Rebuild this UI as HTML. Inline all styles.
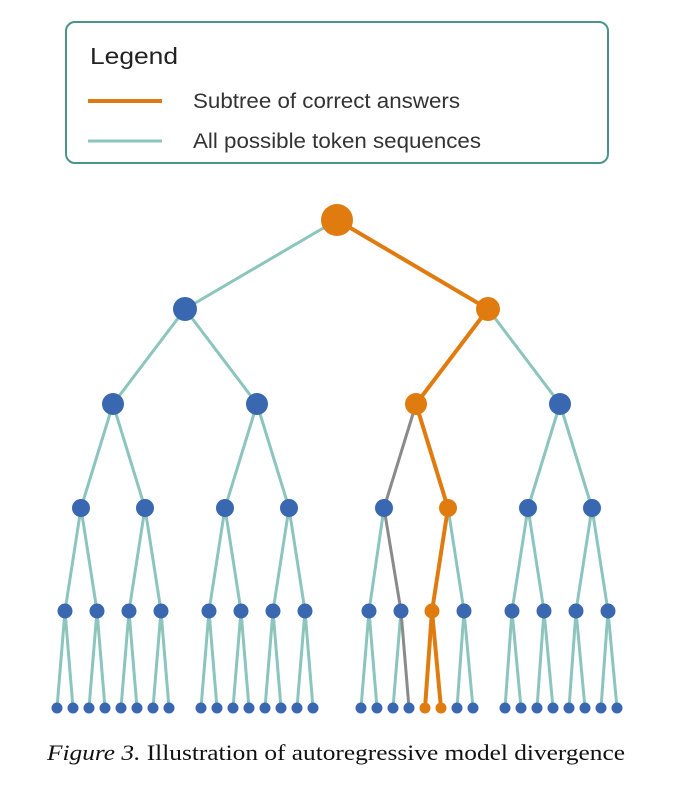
<!DOCTYPE html>
<html><head><meta charset="utf-8"><style>
html,body{margin:0;padding:0;background:#fff;}
svg{display:block;}
</style></head><body>
<svg width="690" height="796" viewBox="0 0 690 796" xmlns="http://www.w3.org/2000/svg">
<rect x="66" y="22" width="542" height="141" rx="9" fill="#fff" stroke="#4a9488" stroke-width="2"/>
<text x="90" y="64" font-family="Liberation Sans, sans-serif" font-size="23" fill="#222" textLength="88" lengthAdjust="spacingAndGlyphs">Legend</text>
<line x1="88" y1="101" x2="162" y2="101" stroke="#dd7a12" stroke-width="4"/>
<line x1="88" y1="141" x2="162" y2="141" stroke="#8cc5bd" stroke-width="3"/>
<text x="193" y="108" font-family="Liberation Sans, sans-serif" font-size="21" fill="#333" textLength="267" lengthAdjust="spacingAndGlyphs">Subtree of correct answers</text>
<text x="193" y="148" font-family="Liberation Sans, sans-serif" font-size="21" fill="#333" textLength="288" lengthAdjust="spacingAndGlyphs">All possible token sequences</text>

<g stroke-width="3" stroke-linecap="round">
<g stroke="#8cc5bd">
<line x1="337" y1="220" x2="185" y2="309"/>
<line x1="185" y1="309" x2="113" y2="404"/><line x1="185" y1="309" x2="257" y2="404"/>
<line x1="488" y1="309" x2="560" y2="404"/>
<line x1="113" y1="404" x2="81" y2="508"/><line x1="113" y1="404" x2="145" y2="508"/>
<line x1="257" y1="404" x2="225" y2="508"/><line x1="257" y1="404" x2="289" y2="508"/>
<line x1="560" y1="404" x2="528" y2="508"/><line x1="560" y1="404" x2="592" y2="508"/>
<line x1="81" y1="508" x2="65" y2="611"/><line x1="81" y1="508" x2="97" y2="611"/>
<line x1="145" y1="508" x2="129" y2="611"/><line x1="145" y1="508" x2="161" y2="611"/>
<line x1="225" y1="508" x2="209" y2="611"/><line x1="225" y1="508" x2="241" y2="611"/>
<line x1="289" y1="508" x2="273" y2="611"/><line x1="289" y1="508" x2="305" y2="611"/>
<line x1="384" y1="508" x2="369" y2="611"/>
<line x1="448" y1="508" x2="464" y2="611"/>
<line x1="528" y1="508" x2="512" y2="611"/><line x1="528" y1="508" x2="544" y2="611"/>
<line x1="592" y1="508" x2="576" y2="611"/><line x1="592" y1="508" x2="608" y2="611"/>
<line x1="65" y1="611" x2="57" y2="708"/><line x1="65" y1="611" x2="73" y2="708"/>
<line x1="97" y1="611" x2="89" y2="708"/><line x1="97" y1="611" x2="105" y2="708"/>
<line x1="129" y1="611" x2="121" y2="708"/><line x1="129" y1="611" x2="137" y2="708"/>
<line x1="161" y1="611" x2="153" y2="708"/><line x1="161" y1="611" x2="169" y2="708"/>
<line x1="209" y1="611" x2="201" y2="708"/><line x1="209" y1="611" x2="217" y2="708"/>
<line x1="241" y1="611" x2="233" y2="708"/><line x1="241" y1="611" x2="249" y2="708"/>
<line x1="273" y1="611" x2="265" y2="708"/><line x1="273" y1="611" x2="281" y2="708"/>
<line x1="305" y1="611" x2="297" y2="708"/><line x1="305" y1="611" x2="313" y2="708"/>
<line x1="369" y1="611" x2="361" y2="708"/><line x1="369" y1="611" x2="377" y2="708"/>
<line x1="401" y1="611" x2="393" y2="708"/>
<line x1="464" y1="611" x2="457" y2="708"/><line x1="464" y1="611" x2="473" y2="708"/>
<line x1="512" y1="611" x2="505" y2="708"/><line x1="512" y1="611" x2="521" y2="708"/>
<line x1="544" y1="611" x2="537" y2="708"/><line x1="544" y1="611" x2="553" y2="708"/>
<line x1="576" y1="611" x2="569" y2="708"/><line x1="576" y1="611" x2="585" y2="708"/>
<line x1="608" y1="611" x2="601" y2="708"/><line x1="608" y1="611" x2="617" y2="708"/>
</g>
<g stroke="#8a8a8a">
<line x1="416" y1="404" x2="384" y2="508"/>
<line x1="384" y1="508" x2="401" y2="611"/>
<line x1="401" y1="611" x2="409" y2="708"/>
</g>
<g stroke="#e07b10" stroke-width="4">
<line x1="337" y1="220" x2="488" y2="309"/>
<line x1="488" y1="309" x2="416" y2="404"/>
<line x1="416" y1="404" x2="448" y2="508"/>
<line x1="448" y1="508" x2="432" y2="611"/>
<line x1="432" y1="611" x2="425" y2="708"/><line x1="432" y1="611" x2="441" y2="708"/>
</g>
</g>

<g fill="#3a68b0">
<circle cx="185" cy="309" r="12"/>
<circle cx="113" cy="404" r="11"/><circle cx="257" cy="404" r="11"/><circle cx="560" cy="404" r="11"/>
<circle cx="81" cy="508" r="9"/><circle cx="145" cy="508" r="9"/><circle cx="225" cy="508" r="9"/><circle cx="289" cy="508" r="9"/>
<circle cx="384" cy="508" r="9"/><circle cx="528" cy="508" r="9"/><circle cx="592" cy="508" r="9"/>
<circle cx="65" cy="611" r="7.5"/><circle cx="97" cy="611" r="7.5"/><circle cx="129" cy="611" r="7.5"/><circle cx="161" cy="611" r="7.5"/>
<circle cx="209" cy="611" r="7.5"/><circle cx="241" cy="611" r="7.5"/><circle cx="273" cy="611" r="7.5"/><circle cx="305" cy="611" r="7.5"/>
<circle cx="369" cy="611" r="7.5"/><circle cx="401" cy="611" r="7.5"/><circle cx="464" cy="611" r="7.5"/>
<circle cx="512" cy="611" r="7.5"/><circle cx="544" cy="611" r="7.5"/><circle cx="576" cy="611" r="7.5"/><circle cx="608" cy="611" r="7.5"/>
<circle cx="57" cy="708" r="5.5"/><circle cx="73" cy="708" r="5.5"/><circle cx="89" cy="708" r="5.5"/><circle cx="105" cy="708" r="5.5"/>
<circle cx="121" cy="708" r="5.5"/><circle cx="137" cy="708" r="5.5"/><circle cx="153" cy="708" r="5.5"/><circle cx="169" cy="708" r="5.5"/>
<circle cx="201" cy="708" r="5.5"/><circle cx="217" cy="708" r="5.5"/><circle cx="233" cy="708" r="5.5"/><circle cx="249" cy="708" r="5.5"/>
<circle cx="265" cy="708" r="5.5"/><circle cx="281" cy="708" r="5.5"/><circle cx="297" cy="708" r="5.5"/><circle cx="313" cy="708" r="5.5"/>
<circle cx="361" cy="708" r="5.5"/><circle cx="377" cy="708" r="5.5"/><circle cx="393" cy="708" r="5.5"/><circle cx="409" cy="708" r="5.5"/>
<circle cx="457" cy="708" r="5.5"/><circle cx="473" cy="708" r="5.5"/>
<circle cx="505" cy="708" r="5.5"/><circle cx="521" cy="708" r="5.5"/><circle cx="537" cy="708" r="5.5"/><circle cx="553" cy="708" r="5.5"/>
<circle cx="569" cy="708" r="5.5"/><circle cx="585" cy="708" r="5.5"/><circle cx="601" cy="708" r="5.5"/><circle cx="617" cy="708" r="5.5"/>
</g>
<g fill="#e07b10">
<circle cx="337" cy="220" r="16"/>
<circle cx="488" cy="309" r="12"/>
<circle cx="416" cy="404" r="11"/>
<circle cx="448" cy="508" r="9"/>
<circle cx="432" cy="611" r="7.5"/>
<circle cx="425" cy="708" r="5.5"/><circle cx="441" cy="708" r="5.5"/>
</g>

<text x="47" y="760" font-family="Liberation Serif, serif" font-size="22" fill="#111" textLength="578" lengthAdjust="spacingAndGlyphs"><tspan font-style="italic">Figure 3.</tspan> Illustration of autoregressive model divergence</text>
</svg>
</body></html>
